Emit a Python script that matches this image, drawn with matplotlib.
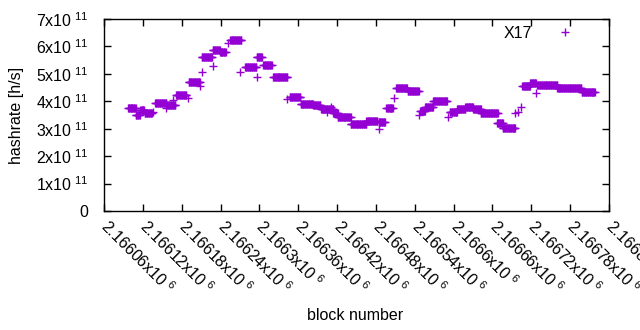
import numpy as np
import matplotlib
matplotlib.use('Agg')
import matplotlib.pyplot as plt

plt.rcParams['font.family'] = ['Liberation Sans', 'DejaVu Sans']
plt.rcParams['mathtext.fontset'] = 'custom'
plt.rcParams['mathtext.rm'] = 'Liberation Sans'
plt.rcParams['mathtext.default'] = 'regular'

# runs of blocks with the same hashrate (first block, last block, hashrate / 1e11)
seg_first = [2166097, 2166109, 2166116, 2166123, 2166139, 2166157, 2166171, 2166191,
             2166211, 2166228, 2166239, 2166255, 2166278, 2166296, 2166306, 2166321,
             2166347, 2166364, 2166383, 2166395, 2166414, 2166421, 2166441, 2166465,
             2166484, 2166496, 2166511, 2166529, 2166548, 2166556, 2166568, 2166594,
             2166605, 2166618, 2166630, 2166642, 2166667, 2166676, 2166706, 2166718,
             2166729, 2166760, 2166798]
seg_last = [2166109, 2166115, 2166122, 2166134, 2166156, 2166170, 2166187, 2166208,
            2166227, 2166239, 2166248, 2166272, 2166295, 2166304, 2166319, 2166343,
            2166363, 2166383, 2166394, 2166414, 2166421, 2166441, 2166465, 2166482,
            2166494, 2166506, 2166528, 2166546, 2166556, 2166568, 2166590, 2166605,
            2166618, 2166630, 2166642, 2166668, 2166676, 2166695, 2166718, 2166727,
            2166760, 2166797, 2166818]
seg_rate = [3.74, 3.50, 3.68, 3.56, 3.93, 3.86, 4.23, 4.71,
            5.60, 5.86, 5.81, 6.23, 5.24, 5.60, 5.32, 4.87,
            4.14, 3.89, 3.85, 3.72, 3.56, 3.42, 3.17, 3.28,
            3.26, 3.74, 4.49, 4.37, 3.65, 3.78, 4.01, 3.60,
            3.72, 3.80, 3.71, 3.56, 3.20, 3.01, 4.54, 4.66,
            4.59, 4.47, 4.33]

# single blocks between the runs
iso_block = [2166136, 2166155, 2166167, 2166190, 2166208, 2166211, 2166229, 2166251,
             2166270, 2166296, 2166343, 2166405, 2166410, 2166484, 2166508, 2166547,
             2166591, 2166695, 2166699, 2166704, 2166727]
iso_rate = [3.62, 3.75, 4.05, 4.11, 4.56, 5.06, 5.27, 6.11,
            5.06, 4.87, 4.08, 3.62, 3.80, 2.98, 4.11, 3.50,
            3.44, 3.56, 3.62, 3.80, 4.31]

blocks = []
rates = []
for f, l, r in zip(seg_first, seg_last, seg_rate):
    for b in range(f, l + 1):
        blocks.append(b)
        rates.append(r * 1e11)
blocks += iso_block
rates += [r * 1e11 for r in iso_rate]

x_ticks = np.arange(2166060, 2166841, 60)
y_ticks = np.arange(0, 8) * 1e11
fs = 11.5

fig = plt.figure(figsize=(6.4, 3.3), dpi=100)
ax = fig.add_axes([104 / 640, 1 - 211 / 330, 505 / 640, 192 / 330])

ax.plot(blocks, rates, linestyle='none', marker='+', markersize=5.5,
        markeredgewidth=1.0, color='#9400d3', label='X17')

ax.set_xlim(2166060, 2166840)
ax.set_ylim(0, 7e11)
ax.set_xticks(x_ticks)
ax.set_yticks(y_ticks)
ax.set_xticklabels([r'{:g}x10$^{{\ 6}}$'.format(t / 1e6) for t in x_ticks],
                   rotation=-45, ha='left', va='center', rotation_mode='anchor')
ax.set_yticklabels(['0'] + [r'{}x10$^{{\ 11}}$'.format(i) for i in range(1, 8)])
ax.tick_params(direction='in', length=5, width=1, top=True, right=True,
               labelsize=fs, colors='black')
ax.tick_params(axis='x', pad=9)
ax.tick_params(axis='y', pad=11)
for s in ax.spines.values():
    s.set_linewidth(1)

ax.set_xlabel('block number', fontsize=fs)
ax.set_ylabel('hashrate [h/s]', fontsize=fs)
ax.xaxis.set_label_coords(0.497, -0.505)
ax.yaxis.set_label_coords(-0.158, 0.5)

ax.legend(loc='upper right', frameon=False, markerfirst=False, fontsize=fs,
          handlelength=2.5, bbox_to_anchor=(0.98, 1.04))

fig.savefig('out.png', dpi=100)
